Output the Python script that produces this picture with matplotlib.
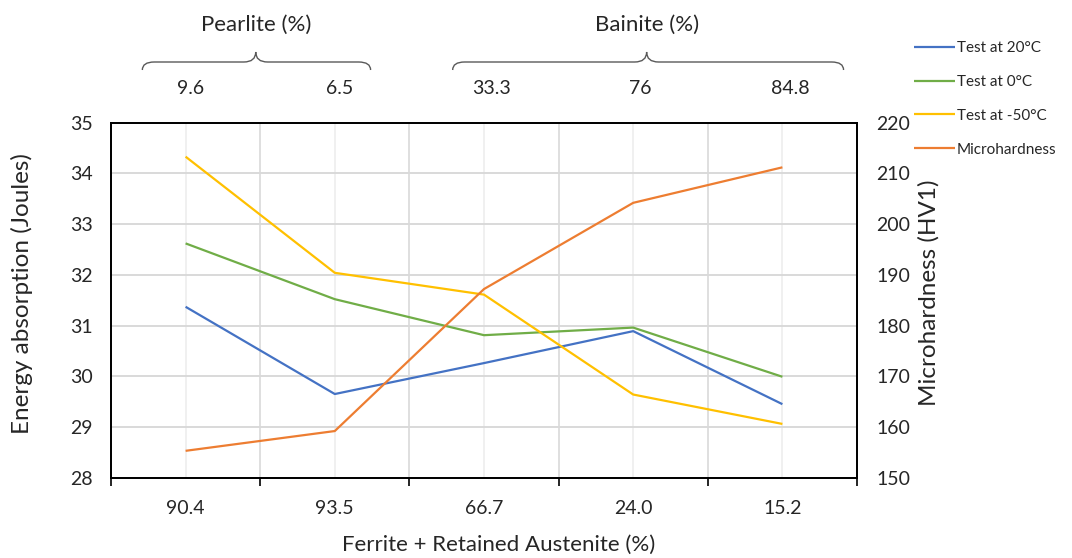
import matplotlib
matplotlib.use("Agg")
import matplotlib.pyplot as plt
from matplotlib.path import Path
from matplotlib.patches import PathPatch
from matplotlib.transforms import blended_transform_factory

plt.rcParams['font.family'] = ['Lato', 'DejaVu Sans']

# Data
ferrite_labels = ["90.4", "93.5", "66.7", "24.0", "15.2"]
pearlite_labels = ["9.6", "6.5"]
bainite_labels = ["33.3", "76", "84.8"]
test_20 = [31.37, 29.65, 30.26, 30.89, 29.45]
test_0 = [32.62, 31.52, 30.81, 30.96, 29.99]
test_m50 = [34.33, 32.04, 31.61, 29.64, 29.06]
microhardness = [155.3, 159.2, 187.2, 204.2, 211.2]

series_names = ["Test at 20°C", "Test at 0°C", "Test at -50°C", "Microhardness"]
colors = ["#4472C4", "#70AD47", "#FFC000", "#ED7D31"]

text_color = "#262626"
tick_fs = 14
x = list(range(len(ferrite_labels)))

fig = plt.figure(figsize=(10.72, 5.58), dpi=100)
ax = fig.add_axes([111 / 1072, 1 - 477.7 / 558, (857 - 111) / 1072, (477.7 - 122.7) / 558])
ax2 = ax.twinx()

# Grid: boundaries and category centres vertically, integers horizontally
ax.set_xlim(-0.5, len(x) - 0.5)
ax.set_xticks(x)
ax.set_xticklabels(ferrite_labels)
ax.set_xticks([i - 0.5 for i in range(len(x) + 1)], minor=True)
ax.grid(True, which='minor', axis='x', color='#d9d9d9', lw=1.2)
ax.grid(True, which='major', axis='x', color='#eeeeee', lw=1.2)
ax.grid(True, which='major', axis='y', color='#d9d9d9', lw=1.4)
ax.set_axisbelow(True)

ax.set_ylim(28, 35)
ax.set_yticks(range(28, 36))
ax2.set_ylim(150, 220)
ax2.set_yticks(range(150, 221, 10))

lines = []
for vals, name, c in zip([test_20, test_0, test_m50], series_names[:3], colors[:3]):
    ln, = ax.plot(x, vals, color=c, lw=1.6, label=name, solid_capstyle='butt')
    lines.append(ln)
ln, = ax2.plot(x, microhardness, color=colors[3], lw=1.6, label=series_names[3], solid_capstyle='butt')
lines.append(ln)

for a in (ax, ax2):
    for s in a.spines.values():
        s.set_color('black')
        s.set_linewidth(1.3)

ax.tick_params(axis='x', which='major', length=0, pad=16, labelsize=tick_fs, labelcolor=text_color)
ax.tick_params(axis='x', which='minor', length=6, width=1.2, color='black', direction='out')
ax.tick_params(axis='y', length=0, pad=13, labelsize=tick_fs, labelcolor=text_color)
ax2.tick_params(axis='y', length=0, pad=14, labelsize=tick_fs, labelcolor=text_color)

ax.set_xlabel("Ferrite + Retained Austenite (%)", fontsize=16, color=text_color)
ax.xaxis.set_label_coords(0.52, -0.162)
ax.set_ylabel("Energy absorption (Joules)", fontsize=17.5, color=text_color)
ax.yaxis.set_label_coords(-0.1046, 0.52)
ax2.set_ylabel("Microhardness (HV1)", fontsize=17.5, color=text_color)
ax2.yaxis.set_label_coords(1.082, 0.52)

# Top phase annotations with braces
trans = blended_transform_factory(ax.transData, fig.transFigure)
y_label_row = 1 - 89 / 558
for i, lab in enumerate(pearlite_labels):
    fig.text(x[i] + 0.03, y_label_row, lab, transform=trans, ha='center', va='center',
             fontsize=tick_fs, color=text_color)
for j, lab in enumerate(bainite_labels):
    fig.text(x[j + 2] + 0.05, y_label_row, lab, transform=trans, ha='center', va='center',
             fontsize=tick_fs, color=text_color)


def brace(x0, x1, xt, title):
    y_end = 1 - 70 / 558
    y_mid = 1 - 62 / 558
    y_tip = 1 - 52 / 558
    r = 0.08
    verts = [
        (x0, y_end), (x0, y_mid), (x0 + r, y_mid),
        (xt - r, y_mid), (xt, y_mid), (xt, y_tip),
        (xt, y_mid), (xt + r, y_mid),
        (x1 - r, y_mid), (x1, y_mid), (x1, y_end),
    ]
    codes = [Path.MOVETO, Path.CURVE3, Path.CURVE3,
             Path.LINETO, Path.CURVE3, Path.CURVE3,
             Path.CURVE3, Path.CURVE3,
             Path.LINETO, Path.CURVE3, Path.CURVE3]
    patch = PathPatch(Path(verts, codes), transform=trans, fill=False,
                      edgecolor='#595959', lw=1.0)
    fig.add_artist(patch)
    fig.text(xt, 1 - 25 / 558, title, transform=trans, ha='center', va='center',
             fontsize=16, color=text_color)


brace(-0.29, 1.24, 0.47, "Pearlite (%)")
brace(1.79, 4.41, 3.09, "Bainite (%)")

fig.legend(handles=lines, labels=series_names, loc='upper left',
           bbox_to_anchor=(914 / 1072, 1 - 41 / 558), frameon=False,
           fontsize=11, handlelength=2.7, handletextpad=0.1,
           labelspacing=1.3, borderaxespad=0, borderpad=0, labelcolor=text_color)

fig.savefig("out.png", dpi=100)
